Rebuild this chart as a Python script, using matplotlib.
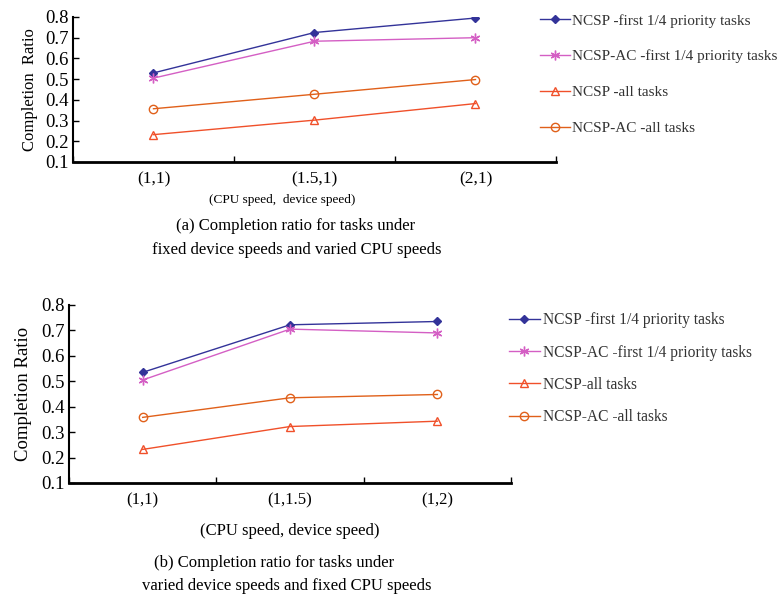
import matplotlib.pyplot as plt

plt.rcParams['font.family'] = ['Liberation Serif', 'DejaVu Serif']

series = ["NCSP -first 1/4 priority tasks", "NCSP-AC -first 1/4 priority tasks",
          "NCSP -all tasks", "NCSP-AC -all tasks"]
series_b = ["NCSP -first 1/4 priority tasks", "NCSP-AC -first 1/4 priority tasks",
            "NCSP-all tasks", "NCSP-AC -all tasks"]

cats_a = ["(1,1)", "(1.5,1)", "(2,1)"]
vals_a = [
    [0.530, 0.725, 0.795],
    [0.505, 0.683, 0.700],
    [0.232, 0.302, 0.382],
    [0.357, 0.427, 0.498],
]

cats_b = ["(1,1)", "(1,1.5)", "(1,2)"]
vals_b = [
    [0.535, 0.722, 0.735],
    [0.505, 0.705, 0.690],
    [0.232, 0.322, 0.343],
    [0.358, 0.435, 0.448],
]

colors = ["#333399", "#D45FC4", "#F0502A", "#E0601A"]
markers = ["D", (6, 2, 0), "^", "o"]
msizes = [4.5, 7, 6, 6]

fig = plt.figure(figsize=(7.79, 5.94), dpi=100)


def draw(ax, cats, vals, labels, catsize):
    x = list(range(len(cats)))
    for i in range(len(vals)):
        filled = i == 0
        ax.plot(x, vals[i], color=colors[i], lw=1.0, marker=markers[i],
                ms=msizes[i], mfc=colors[i] if filled else "none",
                mec=colors[i], mew=1.0, label=labels[i])
    ax.set_xlim(-0.5, len(cats) - 0.5)
    ax.set_ylim(0.1, 0.8)
    ax.set_yticks([0.1, 0.2, 0.3, 0.4, 0.5, 0.6, 0.7, 0.8])
    ax.set_yticklabels(["0.1", "0.2", "0.3", "0.4", "0.5", "0.6", "0.7", "0.8"])
    ax.set_xticks([-0.5, 0.5, 1.5, 2.5])
    ax.set_xticklabels([])
    ax.set_xticks(x, minor=True)
    ax.set_xticklabels(cats, minor=True, fontsize=catsize)
    ax.tick_params(axis="x", which="major", direction="in", length=4, width=1)
    ax.tick_params(axis="x", which="minor", length=0, pad=7)
    ax.tick_params(axis="y", direction="in", length=4, width=1, labelsize=13.5, pad=3)
    ax.spines["top"].set_visible(False)
    ax.spines["right"].set_visible(False)
    ax.spines["left"].set_linewidth(1.5)
    ax.spines["bottom"].set_linewidth(2)


ax1 = fig.add_axes([0.0937, 0.7273, 0.620, 0.2441])
draw(ax1, cats_a, vals_a, series, 12.5)
ax1.set_ylabel("Completion  Ratio", fontsize=12, labelpad=5)
ax1.legend(loc="upper left", bbox_to_anchor=(0.675, 1.0), bbox_transform=fig.transFigure,
           frameon=False, fontsize=11, handlelength=2.0, handletextpad=0.1,
           labelspacing=1.45, labelcolor="#333333")

ax2 = fig.add_axes([0.0886, 0.1869, 0.5674, 0.2997])
draw(ax2, cats_b, vals_b, series_b, 12)
ax2.set_ylabel("Completion Ratio", fontsize=13.5, labelpad=7)
ax2.legend(loc="upper left", bbox_to_anchor=(0.635, 0.498), bbox_transform=fig.transFigure,
           frameon=False, fontsize=11.2, handlelength=2.0, handletextpad=0.2,
           labelspacing=1.05, labelcolor="#333333")

fig.text(0.362, 1 - 200 / 594, "(CPU speed,  device speed)", ha="center", va="center", fontsize=9.5)
fig.text(0.380, 1 - 226 / 594, "(a) Completion ratio for tasks under", ha="center", va="center", fontsize=12)
fig.text(0.381, 1 - 250 / 594, "fixed device speeds and varied CPU speeds", ha="center", va="center", fontsize=12)

fig.text(0.372, 1 - 531 / 594, "(CPU speed, device speed)", ha="center", va="center", fontsize=12)
fig.text(0.352, 1 - 563 / 594, "(b) Completion ratio for tasks under", ha="center", va="center", fontsize=12)
fig.text(0.368, 1 - 586 / 594, "varied device speeds and fixed CPU speeds", ha="center", va="center", fontsize=12)

fig.savefig("out.png", dpi=100)
